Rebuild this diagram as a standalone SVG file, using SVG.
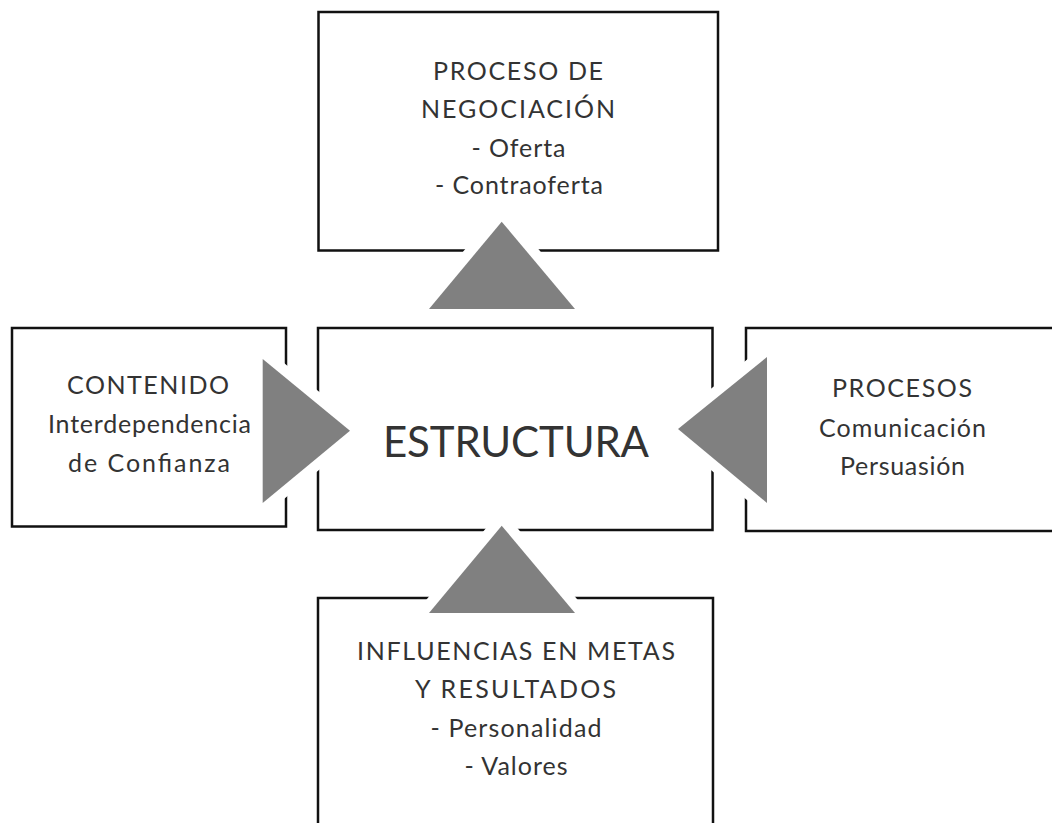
<svg xmlns="http://www.w3.org/2000/svg" width="1052" height="823" viewBox="0 0 1052 823">
<style>
.box{fill:#fff;stroke:#111;stroke-width:2.5}
.t{font-family:Lato,"Open Sans","Liberation Sans",sans-serif;font-size:25px;fill:#333;text-anchor:middle}
.big{font-size:42px}
.arrow{fill:#808080;stroke:#fff;stroke-width:21;stroke-linejoin:round;paint-order:stroke}
</style>
<rect width="1052" height="823" fill="#fff"/>
<g id="node-top">
<rect class="box" x="318.5" y="12" width="399.5" height="238.5"/>
<text class="t" x="518" y="80" textLength="170" lengthAdjust="spacing">PROCESO DE</text>
<text class="t" x="518" y="118" textLength="194" lengthAdjust="spacing">NEGOCIACIÓN</text>
<text class="t" x="518.5" y="157" textLength="94" lengthAdjust="spacing">- Oferta</text>
<text class="t" x="519" y="194" textLength="168" lengthAdjust="spacing">- Contraoferta</text>
</g>
<g id="node-left">
<rect class="box" x="12" y="328" width="274" height="198.5"/>
<text class="t" x="148" y="394" textLength="162" lengthAdjust="spacing">CONTENIDO</text>
<text class="t" x="149.5" y="433" textLength="203" lengthAdjust="spacing">Interdependencia</text>
<text class="t" x="149" y="472" textLength="162" lengthAdjust="spacing">de  Confianza</text>
</g>
<g id="node-center">
<rect class="box" x="318" y="328" width="394.5" height="202"/>
<text class="t big" x="516" y="457" textLength="266" lengthAdjust="spacing">ESTRUCTURA</text>
</g>
<g id="node-right">
<rect class="box" x="746" y="328" width="320" height="203"/>
<text class="t" x="902" y="397" textLength="140" lengthAdjust="spacing">PROCESOS</text>
<text class="t" x="902.5" y="437" textLength="167" lengthAdjust="spacing">Comunicación</text>
<text class="t" x="902.5" y="475" textLength="125" lengthAdjust="spacing">Persuasión</text>
</g>
<g id="node-bottom">
<rect class="box" x="318" y="598" width="395" height="240"/>
<text class="t" x="516" y="660" textLength="318" lengthAdjust="spacing">INFLUENCIAS EN METAS</text>
<text class="t" x="515.5" y="698" textLength="201" lengthAdjust="spacing">Y RESULTADOS</text>
<text class="t" x="516" y="737" textLength="171" lengthAdjust="spacing">- Personalidad</text>
<text class="t" x="516" y="775" textLength="103" lengthAdjust="spacing">- Valores</text>
</g>
<g id="connectors">
<polygon class="arrow" points="501.7,221.7 429,309 575,309"/>
<polygon class="arrow" points="350,430.7 262.7,359 262.7,503"/>
<polygon class="arrow" points="678,429 767,357 767,503"/>
<polygon class="arrow" points="501.7,525.7 429,613 575,613"/>
</g>
</svg>
